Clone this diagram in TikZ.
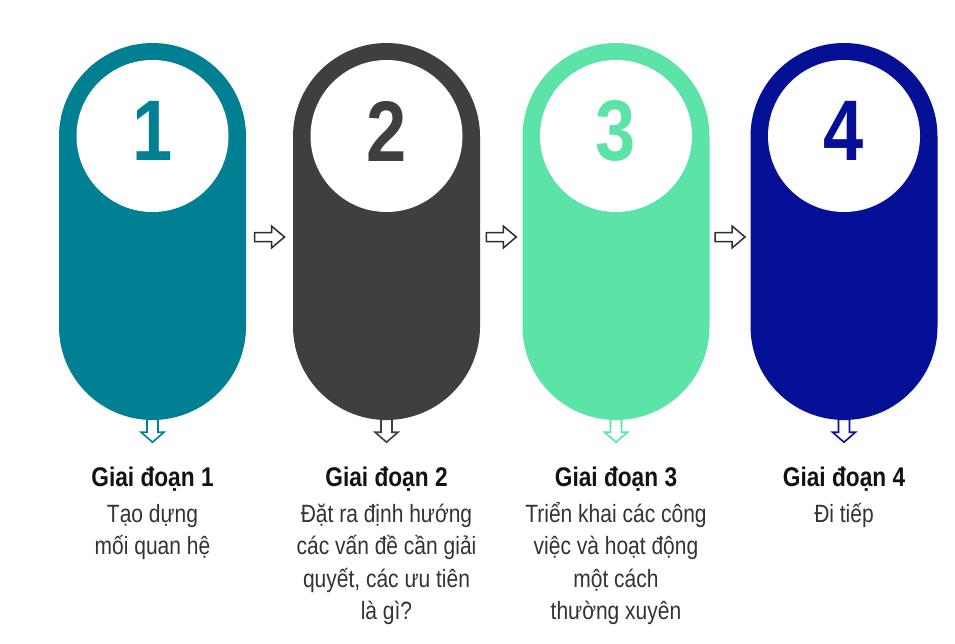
\documentclass[tikz,border=0pt]{standalone}
\usepackage{fontspec}
\setmainfont{Liberation Sans}[FakeStretch=0.84]
\usetikzlibrary{positioning,calc}

\definecolor{teal1}{RGB}{0,128,146}
\definecolor{gray2}{RGB}{63,63,66}
\definecolor{mint3}{RGB}{92,228,168}
\definecolor{navy4}{RGB}{6,16,150}
\definecolor{txtgray}{RGB}{51,51,51}
\definecolor{arrgray}{RGB}{45,45,45}

\tikzset{
  pill/.style={rounded corners=93.5pt, minimum width=187pt, minimum height=377pt, inner sep=0pt},
  hole/.style={circle, fill=white, minimum size=152pt, inner sep=0pt},
  digit/.style={font=\fontsize{86}{86}\selectfont\bfseries, inner sep=0pt},
  title/.style={font=\fontsize{27}{30}\selectfont\bfseries, text=black!93, inner sep=0pt, anchor=base},
  desc/.style={font=\fontsize{25}{32.5}\selectfont, text=txtgray, align=center, inner sep=0pt, anchor=north},
  rarrow/.pic={\draw[fill=white, line width=1.5pt] (-15,-4.5) -- (2,-4.5) -- (2,-11) -- (15,0) -- (2,11) -- (2,4.5) -- (-15,4.5) -- cycle;},
  darrow/.pic={\draw[fill=white, line width=1.6pt] (-5.5,0) -- (-5.5,13) -- (-11.5,13) -- (0,23) -- (11.5,13) -- (5.5,13) -- (5.5,0) -- cycle;}
}

\begin{document}
\begin{tikzpicture}[x=1pt, y=-1pt]
  \useasboundingbox (0,0) rectangle (955,643);

  % stage 1
  \node[pill, fill=teal1] (p1) at (152.5,231.5) {};
  \node[hole] (h1) at (152.5,136) {};
  \node[digit, text=teal1] (n1) at (152.5,131) {1};
  \pic[color=teal1] at ($(p1.south)+(0,-1)$) {darrow};
  \node[title] (t1) at (152.5,486) {Giai đoạn 1};
  \node[desc] (d1) at (152.5,499.25) {\strut Tạo dựng\\mối quan hệ};

  % stage 2
  \node[pill, fill=gray2] (p2) at (386.5,231.5) {};
  \node[hole] (h2) at (386.5,136) {};
  \node[digit, text=gray2] (n2) at (386.5,131) {2};
  \pic[color=gray2] at ($(p2.south)+(0,-1)$) {darrow};
  \node[title] (t2) at (386.5,486) {Giai đoạn 2};
  \node[desc] (d2) at (386.5,499.25) {\strut Đặt ra định hướng\\các vấn đề cần giải\\quyết, các ưu tiên\\là gì?};

  % stage 3
  \node[pill, fill=mint3] (p3) at (616,231.5) {};
  \node[hole] (h3) at (616,136) {};
  \node[digit, text=mint3] (n3) at (616,131) {3};
  \pic[color=mint3] at ($(p3.south)+(0,-1)$) {darrow};
  \node[title] (t3) at (616,486) {Giai đoạn 3};
  \node[desc] (d3) at (616,499.25) {\strut Triển khai các công\\việc và hoạt động\\một cách\\thường xuyên};

  % stage 4
  \node[pill, fill=navy4] (p4) at (844,231.5) {};
  \node[hole] (h4) at (844,136) {};
  \node[digit, text=navy4] (n4) at (844,131) {4};
  \pic[color=navy4] at ($(p4.south)+(0,-1)$) {darrow};
  \node[title] (t4) at (844,486) {Giai đoạn 4};
  \node[desc] (d4) at (844,499.25) {\strut Đi tiếp};

  % arrows between stages
  \pic[color=arrgray] at ($(p1.east)!0.5!(p2.west)+(0,5.5)$) {rarrow};
  \pic[color=arrgray] at ($(p2.east)!0.5!(p3.west)+(0,5.5)$) {rarrow};
  \pic[color=arrgray] at ($(p3.east)!0.5!(p4.west)+(0,5.5)$) {rarrow};
\end{tikzpicture}
\end{document}
